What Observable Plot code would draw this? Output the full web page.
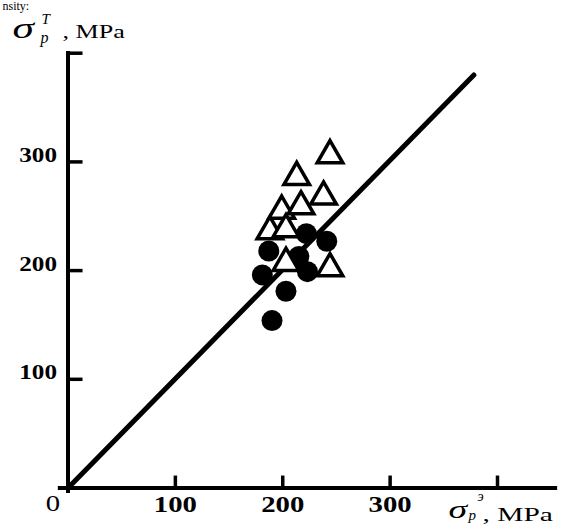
<!DOCTYPE html>
<html><head><meta charset="utf-8">
<script src="https://cdn.jsdelivr.net/npm/d3@7"></script>
<script src="https://cdn.jsdelivr.net/npm/@observablehq/plot@0.6"></script>
<style>
body{margin:0;background:#fff}
</style>
</head><body>
<div id="chart"></div>
<script>
// measured points (x: σ_p^э, y: σ_p^T, MPa)
const triX = [244, 213, 238, 199, 217, 188, 203, 203, 244];
const triY = [306, 286, 268, 255, 259, 236, 238, 207, 202];
const dotX = [222, 241, 187, 215, 181, 223, 203, 190];
const dotY = [234, 227, 218, 213, 196, 199, 181, 154];
// y = x reference line
const lineX = [0, 378];
const lineY = [0, 380];
const xTicks = [100, 200, 300, 400];
const yTicks = [100, 200, 300, 400];
const xTickLabels = [100, 200, 300];
const yTickLabels = [100, 200, 300];

const tris = triX.map((x, i) => ({x, y: triY[i]}));
const dots = dotX.map((x, i) => ({x, y: dotY[i]}));
const diag = lineX.map((x, i) => ({x, y: lineY[i]}));

const serif = "Liberation Serif, Times New Roman, serif";
const lab = (t, o) => Plot.text([t], {text: d => d, fontFamily: serif, fill: "black", lineAnchor: "bottom", textAnchor: "start", ...o});

const chart = Plot.plot({
  width: 564,
  height: 529,
  marginLeft: 67.5,
  marginRight: 67,
  marginTop: 52.7,
  marginBottom: 41.5,
  style: {background: "white"},
  x: {domain: [0, 400], axis: null},
  y: {domain: [0, 400], axis: null},
  marks: [
    // axes
    Plot.ruleY([0], {x1: -9, x2: 456, strokeWidth: 4, stroke: "black"}),
    Plot.ruleX([0], {y1: -5, y2: 401.5, strokeWidth: 4, stroke: "black"}),
    Plot.ruleX(xTicks, {x: d => d, y1: 0, y2: 11, strokeWidth: 3.5, stroke: "black"}),
    Plot.ruleY(yTicks, {y: d => d, x1: 0, x2: 14, strokeWidth: 3.5, stroke: "black"}),
    // tick labels
    Plot.text(xTickLabels, {x: d => d, y: 0, dy: 24, text: d => String(d), fontSize: 23, fontWeight: "bold", fontFamily: serif, fill: "black", ariaDescription: "sx"}),
    Plot.text([0], {x: d => d, y: 0, dx: -15, dy: 23, text: d => String(d), fontSize: 23, fontFamily: serif, fill: "black", ariaDescription: "sx"}),
    Plot.text(yTickLabels, {x: 0, y: d => d, dx: -11, textAnchor: "end", text: d => String(d), fontSize: 21, fontWeight: "bold", fontFamily: serif, fill: "black", ariaDescription: "sr"}),
    // diagonal
    Plot.line(diag, {x: "x", y: "y", stroke: "black", strokeWidth: 5, strokeLinecap: "round"}),
    // data
    Plot.dot(dots, {x: "x", y: "y", r: 10.5, fill: "black", stroke: null}),
    Plot.dot(tris, {x: "x", y: "y", symbol: "triangle", r: 9.5, fill: "white", stroke: "black", strokeWidth: 3.5}),
    // y-axis title  σ_p^T, MPa
    lab("σ", {frameAnchor: "top-left", dx: -55.5, dy: -15.7, fontSize: 30, fontStyle: "italic", ariaDescription: "sl"}),
    lab("T", {frameAnchor: "top-left", dx: -26.5, dy: -29.7, fontSize: 15, fontStyle: "italic"}),
    lab("p", {frameAnchor: "top-left", dx: -27.5, dy: -10.7, fontSize: 16, fontStyle: "italic"}),
    lab(", MPa", {frameAnchor: "top-left", dx: -5.5, dy: -15.7, fontSize: 18, ariaDescription: "sl"}),
    // x-axis title  σ_p^э, MPa
    lab("σ", {frameAnchor: "bottom-right", dx: -49, dy: 29.5, fontSize: 26, fontStyle: "italic", ariaDescription: "sl"}),
    lab("э", {frameAnchor: "bottom-right", dx: -20, dy: 12.5, fontSize: 14, fontStyle: "italic"}),
    lab("p", {frameAnchor: "bottom-right", dx: -29, dy: 31.5, fontSize: 15, fontStyle: "italic"}),
    lab(", MPa", {frameAnchor: "bottom-right", dx: -15, dy: 32.5, fontSize: 19, ariaDescription: "sl2"}),
    // caption fragment at the very top
    lab("nsity:", {frameAnchor: "top-left", dx: -65.5, dy: -43.7, fontSize: 12})
  ]
});

// horizontal stretch of the scanned lettering (scale about each text's anchor)
const stretch = {sx: 1.25, sr: 1.2, sl: 1.45, sl2: 1.55};
for (const [k, s] of Object.entries(stretch)) {
  chart.querySelectorAll(`g[aria-description="${k}"] text`).forEach(t => {
    const tr = t.getAttribute("transform") || "";
    const x = +t.getAttribute("x") || 0, y = +t.getAttribute("y") || 0;
    t.removeAttribute("x"); t.removeAttribute("y");
    t.setAttribute("transform", `${tr} translate(${x},${y}) scale(${s},1)`);
  });
}
document.getElementById("chart").appendChild(chart);
</script>
</body></html>
